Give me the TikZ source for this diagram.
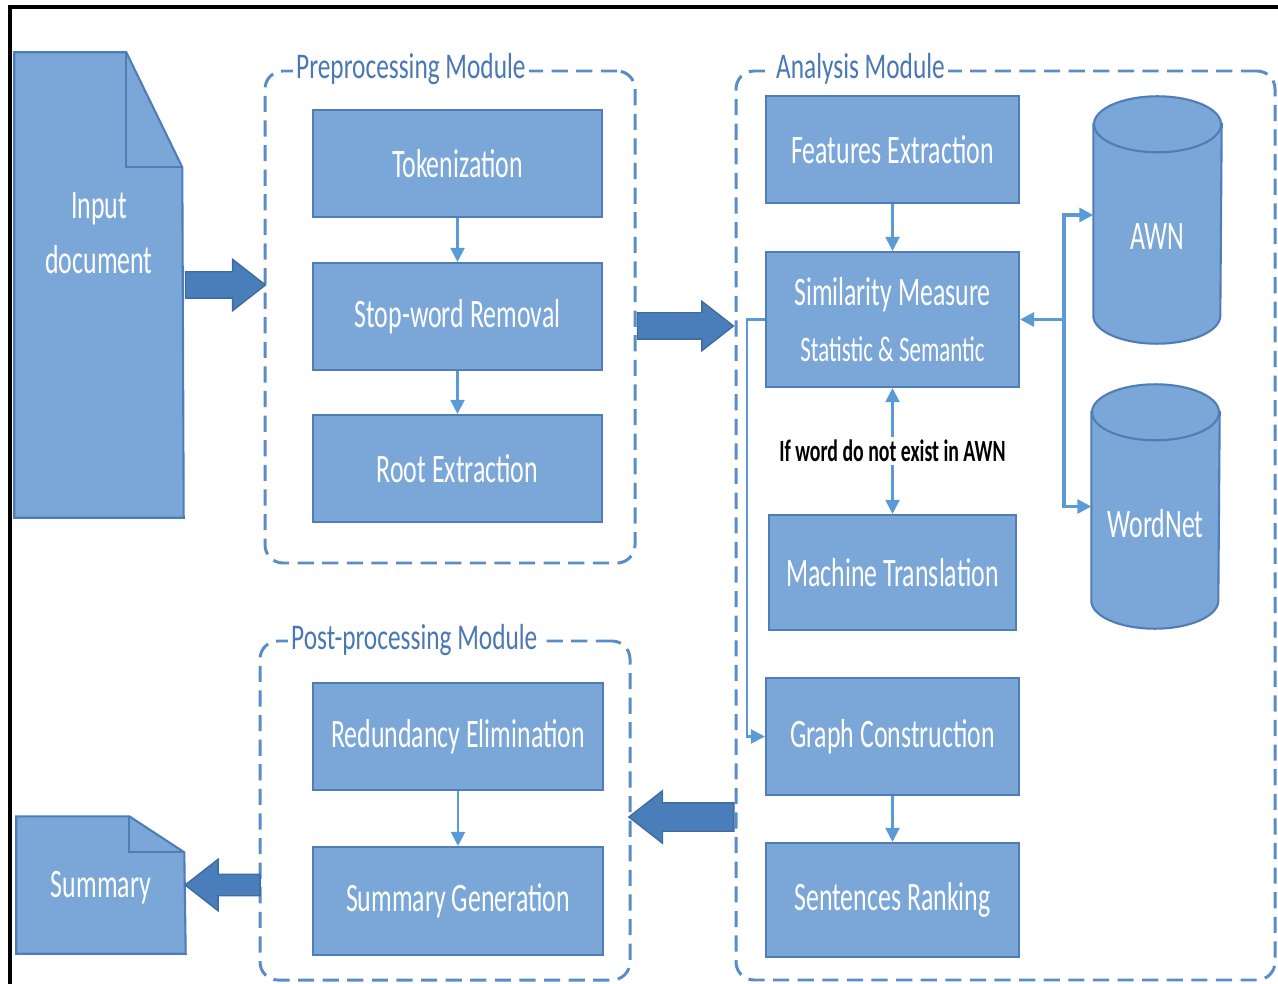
\documentclass[tikz,border=0pt]{standalone}
\usepackage{fontspec}
\setmainfont{Carlito}[FakeStretch=0.64]
\newfontfamily\modfont{Carlito}[FakeStretch=0.7]
\usepackage{tikz}
\usetikzlibrary{shapes.arrows,arrows.meta}

\definecolor{boxfill}{HTML}{7AA7D8}
\definecolor{boxline}{HTML}{4F7DB8}
\definecolor{arrowfill}{HTML}{4A7EBB}
\definecolor{framecol}{HTML}{5A8CC6}
\definecolor{linkcol}{HTML}{5B9BD5}
\definecolor{labelcol}{HTML}{4A78B4}

\begin{document}
\begin{tikzpicture}
	[x=0.1mm,y=-0.1mm,
	font=\fontsize{11.5}{14}\selectfont,
	block/.style={draw=boxline, line width=0.6pt, fill=boxfill, text=white,
		minimum width=25.3mm, minimum height=10.7mm, align=center, inner sep=0pt},
	docbox/.style={draw=none, minimum width=16.8mm, inner sep=0pt, text=white, align=center},
	docshape/.style={draw=boxline, line width=0.6pt, fill=boxfill, line join=miter},
	module/.style={draw=framecol, line width=0.85pt, dash pattern=on 4.6pt off 2.4pt,
		rounded corners=1.8mm, inner sep=0pt},
	modlabel/.style={fill=white, text=labelcol, font=\modfont\fontsize{10.3}{12}\selectfont,
		inner xsep=1pt, inner ysep=0pt, anchor=base west},
	bigarrow/.style={single arrow, fill=arrowfill, draw=arrowfill!85!black, line width=0.4pt,
		inner sep=0pt, text depth=0pt, single arrow tip angle=76},
	link/.style={draw=linkcol, line width=0.6pt, -{Triangle[length=4pt,width=4pt]}},
	hublink/.style={link, line width=0.9pt},
	db/.style={draw=none, minimum width=12.7mm, inner sep=0pt},
	dbtext/.style={text=white, inner sep=0pt}
	]
	\useasboundingbox (0,0) rectangle (1278,984);
	\draw[line width=1.2pt] (10,984) -- (10,7) -- (1278,7);

	% module frames
	\node[module, minimum width=37mm, minimum height=49.2mm] (prebox) at (450,317) {};
	\node[module, minimum width=53.9mm, minimum height=90.9mm] (anabox) at (1005.5,525.5) {};
	\node[module, minimum width=37mm, minimum height=33.9mm] (postbox) at (445,810.5) {};
	\node[modlabel] (prelabel) at (292,79) {Preprocessing Module};
	\node[modlabel] (analabel) at (772,79) {Analysis Module};
	\node[modlabel] (postlabel) at (287,649) {Post-processing Module};

	% documents
	\node[docbox, minimum height=46.4mm] (inp) at (99,285) {};
	\filldraw[docshape] (inp.south west) -- (inp.north west) -- ++(112,0) coordinate (inpfold)
		-- ++(56,115) -- (inp.south east) -- cycle;
	\draw[docshape, fill=none] (inpfold) -- ++(0,115) -- ++(56,0);
	\node[docbox, font=\fontsize{11.5}{15.6}\selectfont] (inptext) at (99,233) {Input\\document};

	\node[docbox, minimum height=13.6mm] (summ) at (101,885) {};
	\filldraw[docshape] (summ.south west) -- (summ.north west) -- ++(113,0) coordinate (summfold)
		-- ++(55,36) -- (summ.south east) -- cycle;
	\draw[docshape, fill=none] (summfold) -- ++(0,36) -- ++(55,0);
	\node[docbox] (summtext) at (101,888) {Summary};

	% preprocessing
	\node[block, minimum width=28.9mm] (tok) at (457.5,163.5) {Tokenization};
	\node[block, minimum width=28.9mm] (stop) at (457.5,316.5) {Stop-word Removal};
	\node[block, minimum width=28.9mm] (root) at (457.5,468.5) {Root Extraction};

	% analysis
	\node[block] (feat) at (892.5,149.5) {Features Extraction};
	\node[block, minimum height=13.5mm] (sim) at (892.5,319.5)
		{Similarity Measure\\[2pt]{\fontsize{10.2}{12}\selectfont Statistic \& Semantic}};
	\node[block, minimum width=24.7mm, minimum height=11.5mm] (mt) at (892.5,572.5) {Machine Translation};
	\node[block, minimum height=11.7mm] (graph) at (892.5,736.5) {Graph Construction};
	\node[block, minimum height=11.4mm] (rank) at (892.5,900) {Sentences Ranking};

	% databases
	\node[db, minimum height=24.6mm] (awn) at (1157.5,220) {};
	\node[db, minimum height=24.3mm] (wn) at (1155.5,506.5) {};
	\foreach \db/\dbname in {awn/AWN, wn/WordNet} {
		\filldraw[docshape] ([yshift=-2.8mm]\db.north west) -- ([yshift=2.8mm]\db.south west)
			arc[start angle=180, end angle=360, x radius=6.35mm, y radius=2.8mm]
			-- ([yshift=-2.8mm]\db.north east) -- cycle;
		\filldraw[docshape] ([yshift=-2.8mm]\db.north) ellipse[x radius=6.35mm, y radius=2.8mm];
		\node[dbtext] (\db text) at ([yshift=-1.7mm]\db.center) {\dbname};
	}

	% post-processing
	\node[block, minimum width=29mm] (red) at (458,736.5) {Redundancy Elimination};
	\node[block, minimum width=29mm, minimum height=10.8mm] (gen) at (458,901) {Summary Generation};

	% module to module
	\node[bigarrow, minimum height=8mm, minimum width=5mm, text height=2.5mm,
		single arrow head extend=1.25mm] (inarrow) at (217,285) {};
	\node[bigarrow, minimum height=9.6mm, minimum width=4.8mm, text height=2.5mm,
		single arrow head extend=1.15mm] (prearrow) at (677,326) {};
	\node[bigarrow, shape border rotate=180, minimum height=10.5mm, minimum width=5.1mm,
		text height=2.7mm, single arrow head extend=1.2mm] (anaarrow) at (690.5,817) {};
	\node[bigarrow, shape border rotate=180, minimum height=7.5mm, minimum width=5mm,
		text height=2mm, single arrow head extend=1.5mm] (outarrow) at (229.5,885) {};

	% links inside modules
	\draw[link] (tok) -- (stop);
	\draw[link] (stop) -- (root);
	\draw[link] (feat) -- (sim);
	\draw[link, {Triangle[length=4pt,width=4pt]}-{Triangle[length=4pt,width=4pt]}] (sim) --
		node[fill=white, text=black, inner sep=1pt, font=\bfseries\fontsize{8.8}{10}\selectfont] (cond)
		{If word do not exist in AWN} (mt);
	\draw[link] (sim.west) -- ++(-18,0) |- (graph.west);
	\draw[link] (graph) -- (rank);
	\draw[link] (red) -- (gen);
	\coordinate (hub) at ([xshift=4.4mm]sim.east);
	\draw[hublink] (hub) -- (sim.east);
	\draw[hublink] (hub) |- ([yshift=0.5mm]awn.west);
	\draw[hublink] (hub) |- (wn.west);
\end{tikzpicture}
\end{document}
